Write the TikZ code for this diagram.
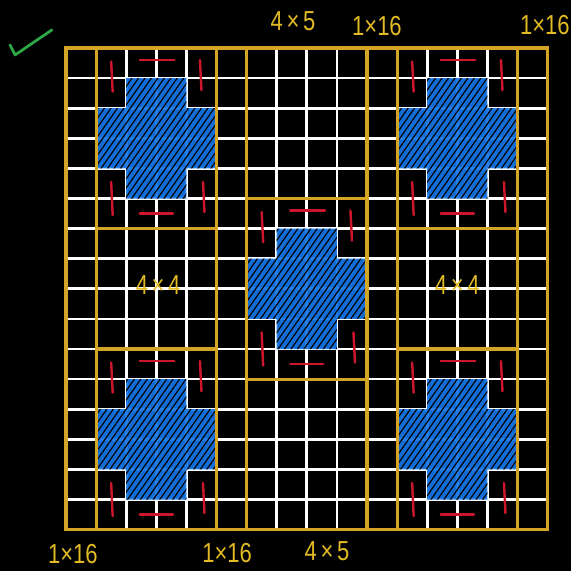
\documentclass[tikz,border=0pt]{standalone}
\usepackage{fontspec}
\newfontfamily\labelfont{Liberation Sans}
\usetikzlibrary{patterns.meta}

\definecolor{gridgold}{RGB}{212,164,38}
\definecolor{labelgold}{RGB}{226,186,36}
\definecolor{crossblue}{RGB}{20,118,232}
\definecolor{markred}{RGB}{204,22,44}
\definecolor{tickgreen}{RGB}{44,168,72}

\begin{document}
\begin{tikzpicture}[
  cell line/.style={white, line width=2.6pt},
  strip line/.style={gridgold, line width=3pt},
  hatch/.style={pattern={Lines[angle=55,distance=5pt,line width=1.1pt]},
    pattern color=black},
  gap mark/.style={markred, line width=2.3pt, line cap=round},
  size label/.style={labelgold, font=\labelfont\fontsize{26}{26}\selectfont,
    xscale=0.8, transform shape, inner sep=0pt}
]
  % black sheet, same margins as the drawing
  \fill[black] (-2.193,-1.375) rectangle (16.777,17.595);
  \useasboundingbox (-2.193,-1.375) rectangle (16.777,17.595);

  % the 16 x 16 cells
  \draw[cell line] (0,0) grid (16,16);

  % five plus shaped blocks (given by their centres) with red marks round them
  \foreach \cx/\cy in {3/13, 13/13, 8/8, 3/3, 13/3} {
    \begin{scope}[shift={(\cx,\cy)}]
      \path[preaction={fill=crossblue, fill opacity=0.93}, hatch]
        (-1,2) -- (1,2) -- (1,1) -- (2,1) -- (2,-1) -- (1,-1) -- (1,-2)
        -- (-1,-2) -- (-1,-1) -- (-2,-1) -- (-2,1) -- (-1,1) -- cycle;
      \draw[gap mark] (-0.55,2.6) -- (0.6,2.6);    % above
      \draw[gap mark] (-0.55,-2.5) -- (0.55,-2.5); % below
      \draw[gap mark] (-1.5,2.55) -- (-1.45,1.55);
      \draw[gap mark] (-1.5,-1.45) -- (-1.45,-2.55);
      \draw[gap mark] (1.45,2.6) -- (1.5,1.6);
      \draw[gap mark] (1.55,-1.45) -- (1.6,-2.45);
    \end{scope}
  }

  % yellow strips and boxes
  \draw[strip line] (0,0) rectangle (16,16);
  \foreach \x in {1,5,6,10,11,15}
    \draw[strip line] (\x,0) -- (\x,16);
  \draw[strip line] (1,10) -- (5,10) (1,6) -- (5,6);     % left boxes
  \draw[strip line] (11,10) -- (15,10) (11,6) -- (15,6); % right boxes
  \draw[strip line] (6,11) -- (10,11) (6,5) -- (10,5);   % middle box

  % sizes of the pieces
  \node[size label] (top 4x5)    at (7.54,16.88) {4\,×\,5};
  \node[size label] (top 1x16)   at (10.33,16.73) {1×16};
  \node[size label] (right 1x16) at (15.91,16.76) {1×16};
  \node[size label] (left 1x16)  at (0.23,-0.8) {1×16};
  \node[size label] (mid 1x16)   at (5.35,-0.78) {1×16};
  \node[size label] (bot 4x5)    at (8.67,-0.72) {4\,×\,5};
  \node[size label] (left 4x4)   at (3.06,8.13) {4\,×\,4};
  \node[size label] (right 4x4)  at (13.0,8.13) {4\,×\,4};

  % green tick in the corner
  \draw[tickgreen, line width=2.6pt, line cap=round, line join=round]
    (-1.86,16.1) -- (-1.69,15.77) -- (-0.47,16.6);
\end{tikzpicture}
\end{document}
